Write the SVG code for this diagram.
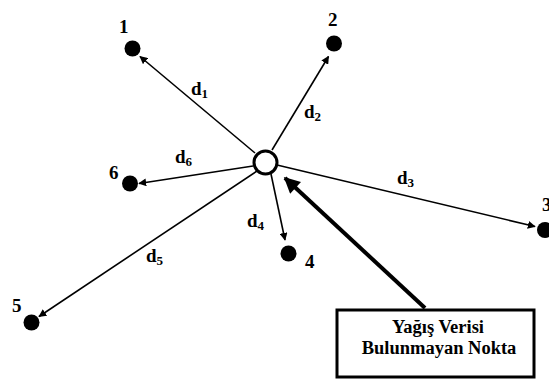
<svg xmlns="http://www.w3.org/2000/svg" width="549" height="379" viewBox="0 0 549 379">
<defs>
<marker id="ah" viewBox="0 0 10 10" refX="9" refY="5" markerWidth="8" markerHeight="8" markerUnits="userSpaceOnUse" orient="auto">
<path d="M0,0 L10,5 L0,10 z" fill="#000"/>
</marker>
<marker id="ahb" viewBox="0 0 10 10" refX="9" refY="5" markerWidth="4.5" markerHeight="4" orient="auto">
<path d="M0,0 L10,5 L0,10 z" fill="#000"/>
</marker>
</defs>
<style>
.pt{fill:#000}
.lbl{font-family:"Liberation Serif","Times New Roman",serif;font-weight:bold;font-size:19px;fill:#000}
.num{font-family:"Liberation Serif","Times New Roman",serif;font-weight:bold;font-size:19px;fill:#000}
.sub{font-size:13px}
.ln{stroke:#000;stroke-width:1.6;fill:none;marker-end:url(#ah)}
.box{font-family:"Liberation Serif","Times New Roman",serif;font-weight:bold;font-size:18.5px;fill:#000;text-anchor:middle}
</style>
<rect width="549" height="379" fill="#fff"/>
<g id="connectors">
<line class="ln" x1="255" y1="153" x2="140" y2="56.5"/>
<line class="ln" x1="272" y1="150" x2="328.5" y2="56.5"/>
<line class="ln" x1="253" y1="166" x2="139" y2="183.5"/>
<line class="ln" x1="277" y1="165" x2="535" y2="226.5"/>
<line class="ln" x1="271" y1="174" x2="285" y2="240"/>
<line class="ln" x1="257" y1="171" x2="39" y2="316.5"/>
<line x1="425" y1="308" x2="285" y2="178" stroke="#000" stroke-width="4" marker-end="url(#ahb)"/>
<text class="lbl" x="191" y="95">d<tspan class="sub" dy="3">1</tspan></text>
<text class="lbl" x="304" y="118">d<tspan class="sub" dy="3">2</tspan></text>
<text class="lbl" x="397" y="184">d<tspan class="sub" dy="3">3</tspan></text>
<text class="lbl" x="247" y="227">d<tspan class="sub" dy="3">4</tspan></text>
<text class="lbl" x="146" y="262">d<tspan class="sub" dy="3">5</tspan></text>
<text class="lbl" x="175" y="163">d<tspan class="sub" dy="3">6</tspan></text>
</g>
<g id="center">
<circle cx="265.5" cy="162.5" r="11.5" fill="#fff" stroke="#000" stroke-width="3"/>
</g>
<g id="n1"><circle class="pt" cx="132.5" cy="48.5" r="8"/><text class="num" x="119" y="33">1</text></g>
<g id="n2"><circle class="pt" cx="334" cy="43.5" r="8"/><text class="num" x="328" y="26">2</text></g>
<g id="n3"><circle class="pt" cx="545" cy="230" r="8"/><text class="num" x="542" y="211">3</text></g>
<g id="n4"><circle class="pt" cx="288.5" cy="253.5" r="8"/><text class="num" x="305" y="268">4</text></g>
<g id="n5"><circle class="pt" cx="31.5" cy="322.5" r="8"/><text class="num" x="12" y="312">5</text></g>
<g id="n6"><circle class="pt" cx="130" cy="183.5" r="8"/><text class="num" x="109" y="179">6</text></g>
<g id="label">
<rect x="337" y="310" width="197" height="67" fill="#fff" stroke="#000" stroke-width="3"/>
<text class="box" x="438" y="333">Yağış Verisi</text>
<text class="box" x="439" y="354">Bulunmayan Nokta</text>
</g>
</svg>
